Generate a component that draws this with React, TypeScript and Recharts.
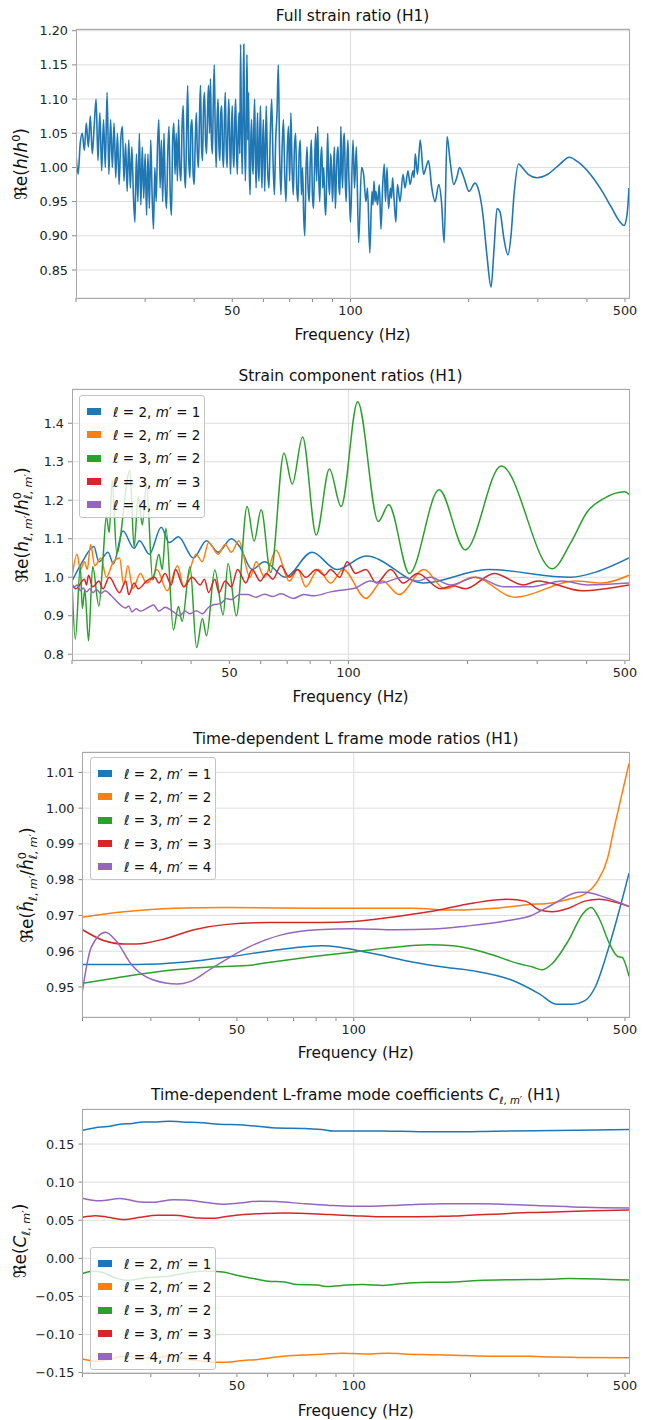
import React from 'react';
import { LineChart, Line, XAxis, YAxis, CartesianGrid, ReferenceLine } from 'recharts';

const FONT = '"DejaVu Sans", "Liberation Sans", sans-serif';
const COLORS = ['#1f77b4', '#ff7f0e', '#2ca02c', '#d62728', '#9467bd'];
const MODES: [number, number][] = [[2, 1], [2, 2], [3, 2], [3, 3], [4, 4]];
const X_TICKS = [20, 30, 40, 50, 60, 70, 80, 90, 100, 200, 300, 400, 500];
const X_LABELS = [50, 100, 500];
const X_DOMAIN: [number, number] = [20, 512];

// ---------- Panel 1: full strain ratio ----------
const P1_F_A = [20, 20.25, 20.5, 20.75, 21, 21.25, 21.5, 21.75, 22, 22.25, 22.5, 22.75, 23, 23.25, 23.5, 23.75, 24, 24.25, 24.5, 24.75, 25, 25.25, 25.5, 25.75, 26, 26.25, 26.5, 26.75, 27, 27.25, 27.5, 27.75, 28, 28.25, 28.5, 28.75, 29, 29.25, 29.5, 29.75, 30];
const P1_V_A = [1.02, 0.99, 1.035, 1.05, 1.025, 1.065, 1.03, 1.075, 1.02, 1.06, 1.10, 1.01, 1.08, 0.995, 1.07, 1.00, 1.11, 0.99, 1.07, 1.0, 1.065, 0.985, 1.05, 0.975, 1.04, 1.06, 0.98, 1.035, 0.965, 1.04, 0.97, 1.03, 0.96, 0.92, 1.02, 0.95, 1.05, 0.945, 1.03, 0.955, 1.02];
const P1_F_B = [30.25, 30.5, 30.75, 31, 31.25, 31.5, 31.75, 32, 32.25, 32.5, 32.75, 33, 33.25, 33.5, 33.75, 34, 34.25, 34.5, 34.75, 35, 35.25, 35.5, 35.75, 36, 36.25, 36.5, 36.75, 37, 37.25, 37.5, 37.75, 38, 38.25, 38.5, 38.75, 39, 39.25, 39.5, 39.75, 40, 40.25, 40.5, 40.75, 41, 41.25, 41.5, 41.75, 42, 42.25, 42.5, 42.75, 43, 43.25, 43.5, 43.75, 44, 44.25, 44.5, 44.75, 45, 45.25, 45.5, 45.75, 46, 46.25, 46.5, 46.75, 47, 47.25, 47.5, 47.75, 48, 48.25, 48.5, 48.75, 49, 49.25, 49.5, 49.75, 50, 50.25, 50.5, 50.75, 51, 51.25, 51.5, 51.75, 52, 52.25, 52.5, 52.75, 53, 53.25, 53.5, 53.75, 54, 54.25, 54.5, 54.75, 55, 55.25, 55.5, 55.75, 56, 56.25, 56.5, 56.75, 57, 57.25, 57.5, 57.75, 58, 58.25, 58.5, 58.75, 59, 59.25, 59.5, 59.75, 60];
const P1_V_B = [0.93, 1.02, 0.94, 1.04, 0.96, 0.91, 1.0, 0.95, 1.03, 1.07, 0.97, 1.04, 0.95, 1.05, 0.97, 0.94, 1.02, 1.06, 0.96, 0.93, 1.04, 1.065, 0.99, 1.05, 0.98, 1.07, 1.0, 0.98, 1.06, 1.09, 1.0, 0.97, 1.05, 1.12, 1.01, 0.985, 1.06, 1.07, 0.99, 0.975, 1.04, 1.08, 1.02, 1.0, 1.07, 1.12, 1.03, 1.01, 1.09, 1.11, 1.04, 1.02, 1.08, 1.12, 1.05, 1.13, 1.04, 1.02, 1.10, 1.15, 1.05, 1.0, 1.07, 1.10, 1.03, 1.01, 1.08, 1.09, 1.02, 1.0, 1.07, 1.11, 1.03, 1.0, 1.06, 1.10, 1.04, 0.99, 1.05, 1.09, 1.02, 1.0, 1.07, 1.10, 1.03, 0.99, 1.05, 1.08, 1.02, 1.18, 1.06, 0.99, 1.08, 1.18, 1.05, 0.98, 1.06, 1.165, 1.04, 1.11, 1.0, 0.96, 1.04, 1.07, 1.01, 0.99, 1.06, 1.10, 1.02, 0.97, 1.03, 1.08, 1.0, 0.98, 1.05, 1.09, 1.01, 0.97, 1.03, 1.07];
const P1_F_C = [60.5, 61, 61.5, 62, 62.5, 63, 63.5, 64, 64.5, 65, 65.5, 66, 66.5, 67, 67.5, 68, 68.5, 69, 69.5, 70, 70.5, 71, 71.5, 72, 72.5, 73, 73.5, 74, 74.5, 75, 75.5, 76, 76.5, 77, 77.5, 78, 78.5, 79, 79.5, 80, 80.5, 81, 81.5, 82, 82.5, 83, 83.5, 84, 84.5, 85, 85.5, 86, 86.5, 87, 87.5, 88, 88.5, 89, 89.5, 90, 90.5, 91, 91.5, 92, 92.5, 93, 93.5, 94, 94.5, 95, 95.5, 96, 96.5, 97, 97.5, 98, 98.5, 99, 99.5, 100];
const P1_V_C = [0.965, 1.09, 1.0, 0.97, 1.05, 1.10, 1.01, 0.96, 1.04, 1.08, 1.15, 1.02, 0.96, 1.03, 1.07, 0.99, 0.95, 1.02, 1.06, 0.98, 1.08, 1.0, 0.96, 1.03, 1.05, 0.97, 0.95, 1.02, 1.04, 0.96, 1.0, 0.93, 0.90, 0.99, 1.03, 0.97, 0.95, 1.01, 1.04, 0.96, 0.94, 1.0, 1.05, 0.98, 1.06, 0.99, 0.95, 1.01, 1.03, 0.97, 1.0, 0.95, 0.93, 0.99, 1.05, 0.98, 0.96, 1.02, 1.0, 0.95, 0.99, 1.03, 0.94, 0.98, 1.02, 1.03, 0.97, 0.96, 1.06, 1.0, 0.97, 1.04, 1.05, 0.98, 0.95, 1.01, 1.04, 0.99, 0.95, 0.92];
const P1_F_D = [101.5, 102.4, 103.5, 104.9, 106.7, 108, 109.5, 110.5, 112, 113.4, 114.1, 114.8, 115.5, 116.1, 117.2, 118.4, 119.6, 120.7, 121.9, 122.8, 123.9, 125, 126.4, 127.2, 128, 129.1, 130.5, 131.7, 133.7, 136.1, 137.7, 140.1, 141.8, 144.3, 145.2, 146.2, 148.1, 150.5, 153.5, 155.7, 158, 161.1, 164.2, 167.8, 170.5, 173.2];
const P1_V_D = [1.04, 0.97, 1.03, 0.89, 1.00, 0.99, 0.95, 0.97, 0.875, 0.965, 0.945, 0.98, 0.95, 0.965, 0.945, 0.975, 0.91, 0.97, 1.005, 0.95, 1.0, 0.94, 0.97, 0.955, 0.985, 0.955, 0.92, 0.975, 0.95, 0.99, 0.97, 0.995, 0.975, 0.995, 0.985, 1.02, 0.99, 1.04, 0.99, 1.0, 1.01, 0.97, 0.95, 0.975, 0.95, 0.89];
const P1_F_E = [176.2, 179.3, 183.2, 186.5, 189.5, 194.5, 200.4, 207.5, 212.4, 217.5, 222.7, 228, 232, 236.2, 240.3, 246, 251.8, 256.3, 260.9, 268, 273.5, 283.5, 298.6, 318, 341.6, 361, 379.5, 408, 432, 463.5, 486, 497, 506, 512];
const P1_V_E = [1.045, 1.01, 0.975, 0.985, 1.0, 0.985, 0.965, 0.977, 0.965, 0.93, 0.87, 0.825, 0.88, 0.94, 0.935, 0.895, 0.872, 0.9, 0.96, 1.005, 1.0, 0.99, 0.985, 0.99, 1.005, 1.015, 1.008, 0.99, 0.97, 0.94, 0.92, 0.915, 0.93, 0.97];

// ---------- Panel 2: strain component ratios ----------
const P2_F_21 = [20, 21.24, 22.72, 23.39, 24.66, 25.45, 26.9, 28.71, 29.62, 31.37, 33.62, 35.23, 37.15, 40.52, 43.77, 46.81, 50.58, 53.07, 57.05, 61.33, 69.2, 80.91, 93.5, 110.7, 155.1, 225.3, 365, 426.7, 512];
const P2_V_21 = [0.99, 1.04, 1.08, 1.04, 1.065, 1.035, 1.12, 1.075, 1.095, 1.06, 1.13, 1.09, 1.105, 1.05, 1.095, 1.065, 1.10, 1.08, 1.02, 1.04, 1.0, 1.065, 1.02, 1.055, 0.985, 1.02, 1.0, 1.015, 1.05];
const P2_F_22 = [20, 20.59, 20.99, 21.5, 21.86, 22.29, 22.83, 23.67, 24.42, 25.45, 26.38, 27.03, 27.69, 28.5, 29.77, 30.86, 31.99, 32.77, 34.81, 36.97, 38.33, 41.21, 42.7, 44.3, 46.81, 48.78, 50.58, 52.8, 56.37, 58.44, 61.33, 65.6, 70.9, 74.4, 78, 83.9, 90.1, 96.9, 110.7, 121.9, 134.2, 155.1, 175, 207.1, 263.6, 374, 437, 512];
const P2_V_22 = [1.0, 1.06, 1.02, 1.04, 1.02, 1.085, 1.03, 1.05, 1.0, 1.04, 1.05, 0.98, 1.03, 0.97, 1.01, 0.985, 1.0, 1.02, 0.965, 1.03, 0.975, 1.06, 1.04, 1.09, 1.06, 1.085, 1.065, 1.095, 1.0, 1.04, 1.0, 1.07, 0.99, 1.02, 0.975, 1.02, 0.985, 1.02, 0.945, 0.99, 0.955, 1.02, 0.97, 1.0, 0.948, 0.99, 0.985, 1.005];
const P2_F_32 = [20, 20.39, 20.99, 21.24, 21.55, 22.02, 22.56, 23.39, 23.96, 24.42, 24.84, 25.27, 25.95, 28.02, 28.71, 29.41, 30.12, 30.86, 31.99, 33.17, 33.82, 34.56, 36.1, 37.15, 37.96, 39.75, 41.31, 42.72, 43.77, 45.93, 48.2, 49.62, 52.06, 55.43, 57.74, 60.16, 63.59, 68.7, 72.1, 76.56, 82.9, 89.5, 95.8, 105.5, 119, 126.4, 142.6, 169.5, 197.4, 243.4, 327.4, 365, 401.6, 443, 499, 512];
const P2_V_32 = [0.99, 0.839, 1.028, 0.919, 0.967, 0.835, 1.028, 0.925, 1.05, 1.158, 1.116, 1.253, 1.062, 1.277, 1.078, 1.21, 1.136, 1.24, 0.993, 1.06, 1.02, 1.127, 0.863, 0.924, 0.885, 1.028, 0.817, 0.893, 0.848, 1.019, 0.902, 1.036, 0.9, 1.184, 1.094, 1.175, 1.012, 1.322, 1.242, 1.364, 1.11, 1.281, 1.184, 1.456, 1.145, 1.188, 1.01, 1.227, 1.071, 1.289, 1.022, 1.09, 1.17, 1.205, 1.222, 1.215];
const P2_F_33 = [20, 20.49, 21.5, 21.76, 22.02, 22.56, 23.39, 23.96, 24.84, 26.38, 27.36, 27.82, 28.71, 29.41, 30.86, 32.38, 33.17, 34.39, 35.66, 36.53, 38.33, 40.23, 42.21, 43.24, 44.3, 45.93, 47.05, 48.78, 50.58, 52.44, 55.03, 57.05, 59.86, 62.07, 64.36, 67.5, 70.9, 74.4, 78, 82.9, 87, 90.1, 95.1, 99.3, 104.2, 110.7, 117.6, 127.9, 137.5, 149.6, 170.8, 183.6, 197.4, 233.6, 276.6, 300.9, 323.5, 387.6, 512];
const P2_V_33 = [0.98, 0.97, 0.995, 0.98, 1.005, 0.975, 0.99, 0.97, 1.0, 0.96, 0.99, 0.955, 0.985, 0.97, 0.99, 1.0, 0.985, 1.01, 0.98, 1.02, 0.975, 1.0, 0.98, 0.995, 0.96, 0.995, 0.96, 0.99, 0.975, 1.02, 0.985, 1.02, 0.99, 1.01, 0.995, 1.03, 1.0, 1.02, 1.0, 1.02, 1.005, 1.02, 1.0, 1.04, 1.01, 1.02, 0.985, 1.02, 0.985, 1.01, 0.97, 0.978, 0.97, 1.01, 0.98, 0.99, 0.985, 0.965, 0.98];
const P2_F_44 = [20, 20.24, 20.64, 20.99, 21.35, 21.76, 22.19, 22.61, 23.05, 23.67, 24.25, 25.14, 26.38, 27.36, 27.82, 28.36, 29.06, 29.77, 31.23, 32.14, 33.17, 34.39, 36.1, 37.42, 38.61, 39.75, 41.21, 42.72, 44.3, 45.38, 47.62, 49.13, 50.58, 53.07, 55.56, 58.44, 61.33, 64.36, 67.5, 72.6, 77.11, 81.9, 90.1, 96.9, 104.2, 113.4, 120.4, 137.5, 149.6, 160.8, 181.4, 209.7, 248.1, 286.8, 347.6, 401.6, 512];
const P2_V_44 = [0.985, 0.975, 0.98, 0.965, 0.972, 0.962, 0.97, 0.96, 0.968, 0.958, 0.965, 0.952, 0.93, 0.92, 0.925, 0.91, 0.918, 0.912, 0.922, 0.928, 0.912, 0.922, 0.91, 0.90, 0.912, 0.905, 0.913, 0.905, 0.922, 0.928, 0.932, 0.945, 0.942, 0.955, 0.955, 0.948, 0.956, 0.95, 0.957, 0.945, 0.955, 0.952, 0.962, 0.967, 0.972, 0.99, 0.985, 1.0, 0.99, 1.0, 0.98, 1.0, 0.975, 0.975, 0.99, 0.98, 0.985];

// ---------- Panel 3: L frame mode ratios ----------
const P3_F_21 = [20, 27.53, 36.91, 48.29, 64.73, 82.65, 91.11, 100, 116.3, 141.4, 171.9, 204, 254.1, 301.5, 332.4, 366.5, 394.3, 419.1, 450.9, 479.3, 512];
const P3_V_21 = [0.9563, 0.9563, 0.957, 0.9585, 0.9605, 0.9615, 0.9612, 0.9604, 0.959, 0.957, 0.9555, 0.9545, 0.952, 0.948, 0.9452, 0.9452, 0.9462, 0.95, 0.96, 0.97, 0.9818];
const P3_F_22 = [20, 25.59, 34.31, 47.12, 82.65, 141.4, 180.5, 230.4, 280.1, 324.4, 357.6, 394.3, 424.3, 450.9, 467.8, 491.1, 512];
const P3_V_22 = [0.9695, 0.971, 0.972, 0.9722, 0.972, 0.972, 0.9715, 0.972, 0.973, 0.9735, 0.9745, 0.976, 0.9795, 0.986, 0.994, 1.004, 1.0125];
const P3_F_32 = [20, 24.37, 32.67, 41.72, 53.23, 61.64, 78.71, 100, 125.1, 155.9, 180.5, 219.4, 266.8, 290.6, 305.2, 324.4, 357.6, 389.5, 409, 429.5, 456.5, 479.3, 491.1, 512];
const P3_V_32 = [0.951, 0.9525, 0.9545, 0.9555, 0.956, 0.957, 0.9585, 0.9598, 0.961, 0.9618, 0.9615, 0.9595, 0.9565, 0.9555, 0.9548, 0.9565, 0.963, 0.9705, 0.9722, 0.969, 0.962, 0.9585, 0.9583, 0.953];
const P3_F_33 = [20, 22.65, 25.59, 27.53, 32.67, 38.76, 47.12, 60.15, 82.65, 100, 125.1, 155.9, 204, 247.9, 276.7, 301.5, 324.4, 357.6, 394.3, 429.5, 467.8, 512];
const P3_V_33 = [0.966, 0.963, 0.962, 0.962, 0.9635, 0.966, 0.9675, 0.968, 0.968, 0.9683, 0.9695, 0.971, 0.9735, 0.9745, 0.974, 0.9715, 0.971, 0.972, 0.974, 0.9745, 0.9738, 0.9725];
const P3_F_44 = [20, 21.05, 22.93, 24.37, 26.87, 30.35, 35.16, 37.82, 42.75, 53.23, 64.73, 80.66, 100, 128.3, 159.7, 194.2, 247.9, 287, 324.4, 380.1, 394.3, 445.5, 512];
const P3_V_44 = [0.949, 0.961, 0.9653, 0.963, 0.956, 0.952, 0.9508, 0.9515, 0.955, 0.961, 0.9645, 0.966, 0.9663, 0.966, 0.9662, 0.967, 0.9685, 0.97, 0.973, 0.9765, 0.9765, 0.975, 0.9725];

// ---------- Panel 4: L-frame mode coefficients ----------
const P4_F_21 = [20, 21.57, 23.21, 24.97, 26.87, 28.57, 31.11, 33.48, 36.02, 40.7, 44.88, 51.95, 57.28, 63.17, 74.94, 82.65, 88.9, 100, 116.3, 141.4, 159.7, 180.5, 230.4, 294.3, 375.5, 512];
const P4_V_21 = [0.168, 0.1715, 0.173, 0.176, 0.177, 0.179, 0.179, 0.18, 0.179, 0.178, 0.176, 0.175, 0.173, 0.171, 0.1705, 0.169, 0.167, 0.167, 0.1672, 0.1665, 0.166, 0.166, 0.1668, 0.1675, 0.168, 0.169];
const P4_F_22 = [20, 21.84, 23.21, 25.59, 28.22, 30.35, 33.48, 36.91, 42.75, 46.55, 51.95, 55.9, 61.64, 67.97, 74.94, 82.65, 93.37, 100, 110.8, 122.2, 134.6, 159.7, 189.6, 230.4, 280.1, 324.4, 375.5, 512];
const P4_V_22 = [-0.132, -0.135, -0.133, -0.1285, -0.13, -0.131, -0.128, -0.132, -0.136, -0.1365, -0.134, -0.133, -0.13, -0.128, -0.127, -0.126, -0.1245, -0.125, -0.1255, -0.1245, -0.1255, -0.1265, -0.1275, -0.1285, -0.1285, -0.1295, -0.13, -0.1305];
const P4_F_32 = [20, 21.31, 22.65, 24.37, 26.22, 28.92, 32.67, 37.82, 41.2, 45.99, 50.7, 54.56, 60.15, 66.33, 71.37, 80.66, 84.67, 93.37, 105.5, 119.2, 134.6, 155.9, 180.5, 209, 260.3, 316.6, 357.6, 424.3, 512];
const P4_V_32 = [-0.02, -0.017, -0.019, -0.026, -0.029, -0.0255, -0.024, -0.0185, -0.0165, -0.018, -0.023, -0.026, -0.03, -0.031, -0.0345, -0.035, -0.037, -0.0355, -0.0345, -0.0355, -0.033, -0.0315, -0.031, -0.029, -0.028, -0.0275, -0.0265, -0.027, -0.0285];
const P4_F_33 = [20, 21.57, 23.21, 25.59, 28.22, 31.11, 34.31, 39.72, 42.75, 46.55, 51.95, 58.7, 66.33, 74.94, 86.76, 100, 116.3, 131.5, 163.8, 180.5, 204, 230.4, 280.1, 340.6, 414, 512];
const P4_V_33 = [0.054, 0.056, 0.054, 0.051, 0.054, 0.0565, 0.0565, 0.053, 0.0525, 0.0545, 0.0575, 0.059, 0.0595, 0.059, 0.0575, 0.056, 0.0545, 0.0545, 0.055, 0.0555, 0.057, 0.058, 0.06, 0.061, 0.0625, 0.0635];
const P4_F_44 = [20, 22.1, 24.97, 28.22, 30.35, 34.31, 36.91, 42.75, 45.99, 50.7, 57.28, 63.17, 74.94, 86.76, 98.02, 110.8, 128.3, 148.5, 171.9, 214.2, 254.1, 294.3, 394.3, 512];
const P4_V_44 = [0.079, 0.0755, 0.0785, 0.074, 0.0735, 0.077, 0.0765, 0.0725, 0.071, 0.0725, 0.075, 0.0745, 0.0715, 0.0695, 0.0685, 0.0685, 0.0695, 0.071, 0.0715, 0.0715, 0.0705, 0.0695, 0.067, 0.066];

const P1_Y_TICKS = [0.85, 0.9, 0.95, 1.0, 1.05, 1.1, 1.15, 1.2];
const P2_Y_TICKS = [0.8, 0.9, 1.0, 1.1, 1.2, 1.3, 1.4];
const P3_Y_TICKS = [0.95, 0.96, 0.97, 0.98, 0.99, 1.0, 1.01];
const P4_Y_TICKS = [-0.15, -0.1, -0.05, 0, 0.05, 0.1, 0.15];

type Pt = { f: number; v: number };
const zip = (f: number[], v: number[]): Pt[] => f.map((x, i) => ({ f: x, v: v[i] }));

const P1_SERIES = [{ data: zip([...P1_F_A, ...P1_F_B, ...P1_F_C, ...P1_F_D, ...P1_F_E], [...P1_V_A, ...P1_V_B, ...P1_V_C, ...P1_V_D, ...P1_V_E]), color: COLORS[0] }];
const P2_SERIES = [zip(P2_F_21, P2_V_21), zip(P2_F_22, P2_V_22), zip(P2_F_32, P2_V_32), zip(P2_F_33, P2_V_33), zip(P2_F_44, P2_V_44)].map((d, i) => ({ data: d, color: COLORS[i] }));
const P3_SERIES = [zip(P3_F_21, P3_V_21), zip(P3_F_22, P3_V_22), zip(P3_F_32, P3_V_32), zip(P3_F_33, P3_V_33), zip(P3_F_44, P3_V_44)].map((d, i) => ({ data: d, color: COLORS[i] }));
const P4_SERIES = [zip(P4_F_21, P4_V_21), zip(P4_F_22, P4_V_22), zip(P4_F_32, P4_V_32), zip(P4_F_33, P4_V_33), zip(P4_F_44, P4_V_44)].map((d, i) => ({ data: d, color: COLORS[i] }));

const GRID = '#dddddd';
const FRAME = '#a8a8a8';
const TICK_FS = 12.8;
const LABEL_FS = 15.4;

function XTick(props: any) {
  const { x, y, payload } = props;
  if (!X_LABELS.includes(payload.value)) return <g />;
  return (
    <text x={x} y={y} dy={11} textAnchor="middle" fontSize={TICK_FS} fontFamily={FONT} fill="#222">
      {payload.value}
    </text>
  );
}

type Plot = { left: number; top: number; right: number; bottom: number };

function Panel(props: {
  plot: Plot;
  yDomain: [number, number];
  yTicks: number[];
  yFmt: (v: number) => string;
  series: { data: Pt[]; color: string }[];
  lineWidth?: number;
}) {
  const { plot, yDomain, yTicks, yFmt, series } = props;
  const lw = props.lineWidth ?? 1.5;
  const W = 647;
  const H = plot.bottom - plot.top + 50;
  return (
    <div style={{ position: 'absolute', left: 0, top: plot.top - 10, width: W, height: H }}>
      <LineChart width={W} height={H} margin={{ top: 10, right: W - plot.right, bottom: 10, left: plot.left - 50 }}>
        <CartesianGrid vertical={false} stroke={GRID} strokeWidth={1} />
        <ReferenceLine x={100} stroke={GRID} strokeWidth={1} />
        <XAxis
          dataKey="f"
          type="number"
          scale="log"
          domain={X_DOMAIN}
          ticks={X_TICKS}
          interval={0}
          tick={<XTick />}
          tickSize={4}
          tickMargin={2}
          tickLine={{ stroke: '#888' }}
          axisLine={false}
          height={30}
          allowDataOverflow
        />
        <YAxis
          type="number"
          domain={yDomain}
          ticks={yTicks}
          interval={0}
          tickFormatter={yFmt}
          tickSize={4}
          tickMargin={4}
          tickLine={{ stroke: '#888' }}
          axisLine={false}
          width={50}
          allowDataOverflow
          tick={{ fontSize: TICK_FS, fontFamily: FONT, fill: '#222' }}
        />
        {series.map((s, i) => (
          <Line
            key={i}
            data={s.data}
            dataKey="v"
            type="monotone"
            stroke={s.color}
            strokeWidth={lw}
            dot={false}
            isAnimationActive={false}
          />
        ))}
      </LineChart>
      <div
        style={{
          position: 'absolute',
          left: plot.left - 0.5,
          top: 9.5,
          width: plot.right - plot.left + 1,
          height: plot.bottom - plot.top + 1,
          border: `1px solid ${FRAME}`,
          boxSizing: 'border-box',
          pointerEvents: 'none',
        }}
      />
    </div>
  );
}

function Title({ x, y, children }: { x: number; y: number; children: React.ReactNode }) {
  return (
    <div
      style={{
        position: 'absolute',
        left: x,
        top: y,
        transform: 'translate(-50%, -50%)',
        whiteSpace: 'nowrap',
        fontSize: LABEL_FS,
        fontFamily: FONT,
        color: '#111',
        lineHeight: 1.2,
      }}
    >
      {children}
    </div>
  );
}

function YLabel({ x, y, children }: { x: number; y: number; children: React.ReactNode }) {
  return (
    <div
      style={{
        position: 'absolute',
        left: x,
        top: y,
        transform: 'translate(-50%, -50%) rotate(-90deg)',
        whiteSpace: 'nowrap',
        fontSize: 17,
        fontFamily: FONT,
        color: '#111',
        lineHeight: 1.2,
      }}
    >
      {children}
    </div>
  );
}

function LM() {
  return (
    <span>
      <i>ℓ</i>, <i>m</i>′
    </span>
  );
}

function SupSub({ sup, sub }: { sup?: React.ReactNode; sub: React.ReactNode }) {
  return (
    <span
      style={{
        display: 'inline-block',
        position: 'relative',
        fontSize: '0.66em',
        lineHeight: 1,
        verticalAlign: '-0.4em',
      }}
    >
      {sup ? <span style={{ position: 'absolute', left: 0, top: '-1.05em' }}>{sup}</span> : null}
      <span>{sub}</span>
    </span>
  );
}

function LegendBox({ left, top }: { left: number; top: number }) {
  return (
    <div
      style={{
        position: 'absolute',
        left,
        top,
        width: 126,
        height: 123,
        boxSizing: 'border-box',
        border: '1px solid #c4c4c4',
        borderRadius: 3,
        background: 'rgba(255,255,255,0.8)',
        paddingTop: 4,
      }}
    >
      {MODES.map(([l, m], i) => (
        <div key={i} style={{ height: 23.3, display: 'flex', alignItems: 'center' }}>
          <span style={{ display: 'inline-block', width: 14, height: 7, background: COLORS[i], marginLeft: 7 }} />
          <span style={{ marginLeft: 12, fontSize: 13.5, fontFamily: FONT, whiteSpace: 'nowrap', color: '#111' }}>
            <i>ℓ</i> = {l}, <i>m</i>′ = {m}
          </span>
        </div>
      ))}
    </div>
  );
}

const P1_PLOT: Plot = { left: 76, top: 29, right: 629, bottom: 298 };
const P2_PLOT: Plot = { left: 72, top: 389, right: 629, bottom: 660 };
const P3_PLOT: Plot = { left: 82.5, top: 752, right: 629, bottom: 1017 };
const P4_PLOT: Plot = { left: 82.5, top: 1109, right: 629, bottom: 1373 };

const cx = (p: Plot) => (p.left + p.right) / 2;
const cy = (p: Plot) => (p.top + p.bottom) / 2;

const f2 = (v: number) => v.toFixed(2);
const f1 = (v: number) => v.toFixed(1);
const fm = (v: number) => (v < -1e-9 ? '\u2212' : '') + Math.abs(v).toFixed(2);

export default function App() {
  return (
    <div style={{ position: 'relative', width: 647, height: 1420, background: '#fff', overflow: 'hidden', fontFamily: FONT }}>
      <style>{'body{margin:0;background:#fff}'}</style>

      {/* Panel 1 */}
      <Panel plot={P1_PLOT} yDomain={[0.809, 1.2025]} yTicks={P1_Y_TICKS} yFmt={f2} series={P1_SERIES} lineWidth={1.6} />
      <Title x={cx(P1_PLOT)} y={16}>Full strain ratio (H1)</Title>
      <Title x={cx(P1_PLOT)} y={335}>Frequency (Hz)</Title>
      <YLabel x={21} y={cy(P1_PLOT)}>
        ℜe(<i>h</i>/<i>h</i><sup style={{ fontSize: '0.66em' }}>0</sup>)
      </YLabel>

      {/* Panel 2 */}
      <Panel plot={P2_PLOT} yDomain={[0.785, 1.489]} yTicks={P2_Y_TICKS} yFmt={f1} series={P2_SERIES} />
      <Title x={cx(P2_PLOT)} y={376}>Strain component ratios (H1)</Title>
      <Title x={cx(P2_PLOT)} y={697}>Frequency (Hz)</Title>
      <YLabel x={23} y={cy(P2_PLOT)}>
        ℜe(<i>h</i><SupSub sub={<LM />} />/<i>h</i><SupSub sup="0" sub={<LM />} />)
      </YLabel>
      <LegendBox left={79} top={395} />

      {/* Panel 3 */}
      <Panel plot={P3_PLOT} yDomain={[0.9416, 1.0157]} yTicks={P3_Y_TICKS} yFmt={f2} series={P3_SERIES} />
      <Title x={cx(P3_PLOT)} y={739}>Time-dependent L frame mode ratios (H1)</Title>
      <Title x={cx(P3_PLOT)} y={1053}>Frequency (Hz)</Title>
      <YLabel x={28} y={cy(P3_PLOT)}>
        ℜe(<i>ĥ</i><SupSub sub={<LM />} />/<i>ĥ</i><SupSub sup="0" sub={<LM />} />)
      </YLabel>
      <LegendBox left={90} top={757} />

      {/* Panel 4 */}
      <Panel plot={P4_PLOT} yDomain={[-0.1505, 0.196]} yTicks={P4_Y_TICKS} yFmt={fm} series={P4_SERIES} />
      <Title x={cx(P4_PLOT)} y={1096}>
        Time-dependent L-frame mode coefficients <i>C</i><SupSub sub={<LM />} /> (H1)
      </Title>
      <Title x={cx(P4_PLOT)} y={1411}>Frequency (Hz)</Title>
      <YLabel x={21} y={cy(P4_PLOT)}>
        ℜe(<i>C</i><SupSub sub={<LM />} />)
      </YLabel>
      <LegendBox left={90} top={1247} />
    </div>
  );
}
